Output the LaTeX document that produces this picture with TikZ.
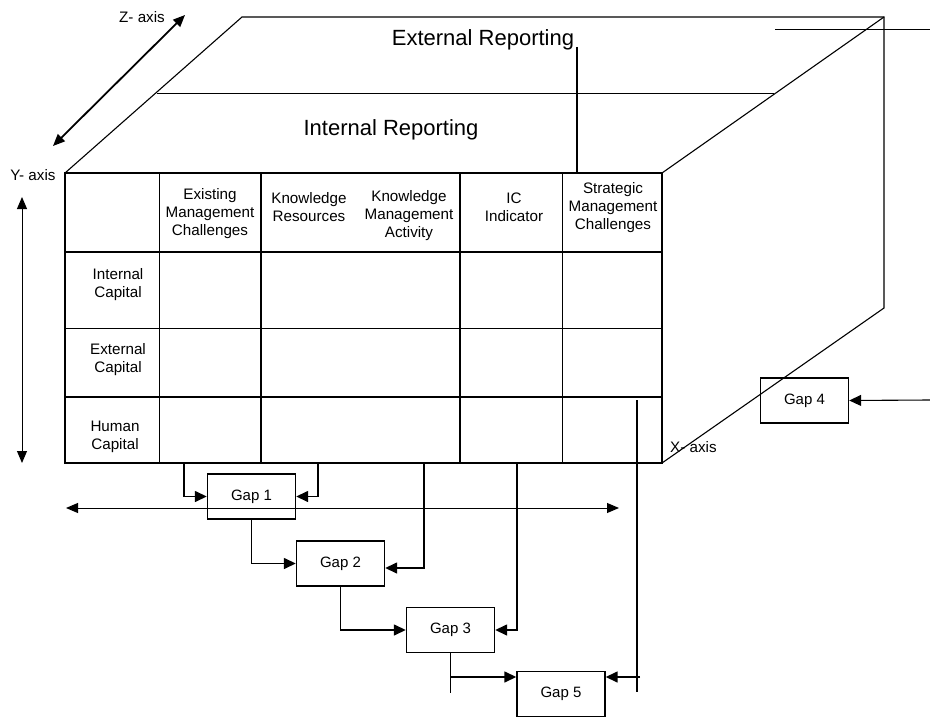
\documentclass[tikz,border=0pt]{standalone}
\usepackage{fontspec}
\setmainfont{Liberation Sans}
\usetikzlibrary{arrows.meta}

\tikzset{
  cell/.style={align=center, inner sep=0pt, font=\fontsize{15.2}{18}\selectfont},
  gapbox/.style={draw, line width=1.4pt, minimum width=88pt, minimum height=45pt, inner sep=0pt, font=\fontsize{15}{17}\selectfont},
  feed/.style={line width=1.5pt, -{Triangle[length=12pt,width=11pt]}},
  axis/.style={line width=1pt, {Triangle[length=12pt,width=10pt]}-{Triangle[length=12pt,width=10pt]}},
}

\begin{document}
\begin{tikzpicture}[x=1pt, y=-1pt]
\useasboundingbox (0,0) rectangle (930,717);

% back of the box
\draw[line width=1.1pt] (65,173) -- (242,17) -- (884,17) -- (884,308) -- (662,463);
\draw[line width=1.1pt] (662,173) -- (884,17);
\draw[line width=1pt] (157,94) -- (774,94);
\draw[line width=1pt] (775,30) -- (930,30);
\draw[line width=1.3pt] (577,47) -- (577,173);
\node[font=\fontsize{22}{25}\selectfont] (ext) at (483,40) {External Reporting};
\node[font=\fontsize{22}{25}\selectfont] (int) at (391,130) {Internal Reporting};

% front face: the table
\draw[line width=1.8pt] (65,173) rectangle (662,463);
\draw[line width=1.8pt] (65,252) -- (662,252);
\draw[line width=1pt] (65,328) -- (662,328);
\draw[line width=1.8pt] (65,397) -- (662,397);
\draw[line width=1pt] (159,173) -- (159,463);
\draw[line width=1.8pt] (261,173) -- (261,463);
\draw[line width=1.8pt] (460,173) -- (460,463);
\draw[line width=1pt] (562,173) -- (562,463);

\node[cell] (emc) at (210,214) {Existing\\Management\\Challenges};
\node[cell] (kr) at (309,207) {Knowledge\\Resources};
\node[cell] (kma) at (409,216) {Knowledge\\Management\\Activity};
\node[cell] (ici) at (514,207) {IC\\Indicator};
\node[cell] (smc) at (613,208) {Strategic\\Management\\Challenges};
\node[cell] (ic) at (118,285) {Internal\\Capital};
\node[cell] (ec) at (118,360) {External\\Capital};
\node[cell] (hc) at (115,437) {Human\\Capital};

% axes
\draw[axis, line width=1.8pt] (53,146) -- (185,15);
\draw[axis] (22,197) -- (22,463);
\draw[axis] (66,508) -- (619,508);
\node[cell] (zax) at (142,17) {Z- axis};
\node[cell] (yax) at (33,175) {Y- axis};
\node[cell, right] (xax) at (670,447) {X- axis};

% gaps
\node[gapbox] (g1) at (251.5,496.5) {Gap 1};
\node[gapbox] (g2) at (340.5,563.5) {Gap 2};
\node[gapbox] (g3) at (450.5,630) {Gap 3};
\node[gapbox] (g4) at (804.5,400.5) {Gap 4};
\node[gapbox] (g5) at (561,694) {Gap 5};

\coordinate (t1) at (184,463);
\coordinate (t2) at (318,463);
\coordinate (t3) at (424,463);
\coordinate (t4) at (517,463);
\coordinate (s5) at (637,400);
\coordinate (e4) at (930,400);
\coordinate (b3) at (450.5,693);
\coordinate (j3) at (450.5,677);

\draw[feed] (t1) |- (g1.west);
\draw[feed] (t2) |- (g1.east);
\draw[feed] (g1.south) |- (g2.west);
\draw[feed] (t3) |- ([yshift=-4.5pt]g2.east);
\draw[feed] (g2.south) |- (g3.west);
\draw[feed] (t4) |- (g3.east);
\draw[line width=1.5pt] (g3.south) -- (b3);
\draw[feed] (j3) -- ([yshift=17pt]g5.west);
\draw[line width=1.5pt] (s5) -- (637,692);
\draw[feed] (640,677) -- ([yshift=17pt]g5.east);
\draw[feed, line width=1.1pt] (e4) -- (g4.east);
\end{tikzpicture}
\end{document}
